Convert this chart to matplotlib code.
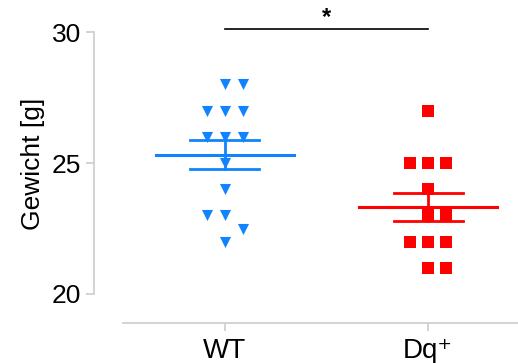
import numpy as np
import matplotlib.pyplot as plt

plt.rcParams['font.family'] = ['Liberation Sans', 'DejaVu Sans']

groups = ["WT", "Dq\u207a"]
wt_weights = [28, 28, 27, 27, 27, 26, 26, 26, 25, 24, 23, 23, 22.5, 22]
dq_weights = [27, 25, 25, 25, 24, 23, 23, 22, 22, 22, 21, 21]
colors = ["#1283ff", "#ff0000"]
markers = ["v", "s"]
msizes = [8.0, 8.5]

step = 0.087
# horizontal slot of each point, in units of one marker step
wt_slots = [0, 1, -1, 0, 1, -1, 0, 1, 0, 0, -1, 0, 1, 0]
dq_slots = [0, -1, 0, 1, 0, 0, 1, -1, 0, 1, 0, 1]

fig = plt.figure(figsize=(5.18, 3.63), dpi=100)
ax = fig.add_axes([0.2375, 0.11, 0.7625, 0.876])

data = [wt_weights, dq_weights]
slots = [wt_slots, dq_slots]

for i, vals in enumerate(data):
    vals = np.array(vals, dtype=float)
    xs = i + np.array(slots[i]) * step
    m = vals.mean()
    sem = vals.std(ddof=1) / np.sqrt(len(vals))
    ax.scatter(xs, vals, marker=markers[i], s=msizes[i] ** 2,
               color=colors[i], linewidths=0, zorder=3)
    ax.plot([i - 0.34, i + 0.34], [m, m], color=colors[i], lw=2.2, zorder=4)
    ax.plot([i - 0.17, i + 0.17], [m + sem, m + sem], color=colors[i], lw=2.0, zorder=4)
    ax.plot([i - 0.17, i + 0.17], [m - sem, m - sem], color=colors[i], lw=2.0, zorder=4)
    ax.plot([i, i], [m - sem, m + sem], color=colors[i], lw=2.0, zorder=4)

# significance bar
ax.plot([0, 1], [30.11, 30.11], color="black", lw=1.2)
ax.text(0.5, 30.55, "*", ha="center", va="center", fontsize=17, fontweight="bold")

ax.set_xlim(-0.502, 1.443)
ax.set_ylim(18.89, 31.03)
ax.set_yticks([20, 25, 30])
ax.set_xticks([0, 1])
ax.set_xticklabels(groups)

for s in ["top", "right"]:
    ax.spines[s].set_visible(False)
ax.spines["left"].set_position(("outward", 20.9))
ax.spines["left"].set_bounds(20, 30)
for s in ["left", "bottom"]:
    ax.spines[s].set_color("#d0d0d0")
    ax.spines[s].set_linewidth(1.3)

ax.tick_params(axis="y", length=6, width=1.3, color="#d0d0d0", pad=3, labelsize=19)
ax.tick_params(axis="x", length=6, width=1.3, color="#d0d0d0", pad=5, labelsize=20)
ax.set_ylabel("Gewicht [g]", fontsize=19, labelpad=5)

fig.savefig("out.png", dpi=100)
